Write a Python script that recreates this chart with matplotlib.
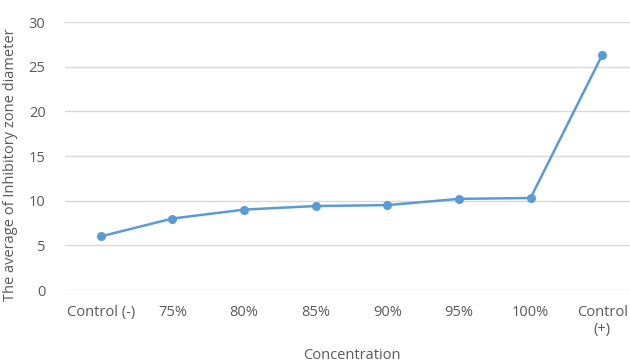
import matplotlib.pyplot as plt

# mean inhibitory zone diameter per concentration
categories = ["Control (-)", "75%", "80%", "85%", "90%", "95%", "100%", "Control\n(+)"]
diameter = [6.0, 8.0, 9.0, 9.4, 9.5, 10.2, 10.3, 26.3]
y_ticks = [0, 5, 10, 15, 20, 25, 30]

plt.rcParams['font.family'] = ['Open Sans', 'DejaVu Sans']
grey = "#595959"

fig = plt.figure(figsize=(6.3, 3.63), dpi=100)
ax = fig.add_axes([65 / 630, 1 - 290 / 363, 573 / 630, 268 / 363])

x = list(range(len(categories)))
ax.plot(x, diameter, color="#5B9BD5", linewidth=1.8, marker="o", markersize=5.5, zorder=3)

ax.set_xlim(-0.5, len(categories) - 0.5)
ax.set_ylim(0, 30)
ax.set_yticks(y_ticks)
ax.set_xticks(x)
ax.set_xticklabels(categories)

ax.grid(axis="y", color="#D9D9D9", linewidth=1.0)
ax.set_axisbelow(True)
for s in ax.spines.values():
    s.set_visible(False)
ax.tick_params(axis="both", length=0, colors=grey, labelsize=10.5)
ax.tick_params(axis="x", pad=11)
ax.tick_params(axis="y", pad=14)

ax.set_xlabel("Concentration", color=grey, fontsize=10.5)
ax.xaxis.set_label_coords(0.5, -0.215)
ax.set_ylabel("The average of Inhibitory zone diameter", color=grey, fontsize=10.5)
ax.yaxis.set_label_coords(-0.082, 0.466)

fig.savefig("out.png", dpi=100)
